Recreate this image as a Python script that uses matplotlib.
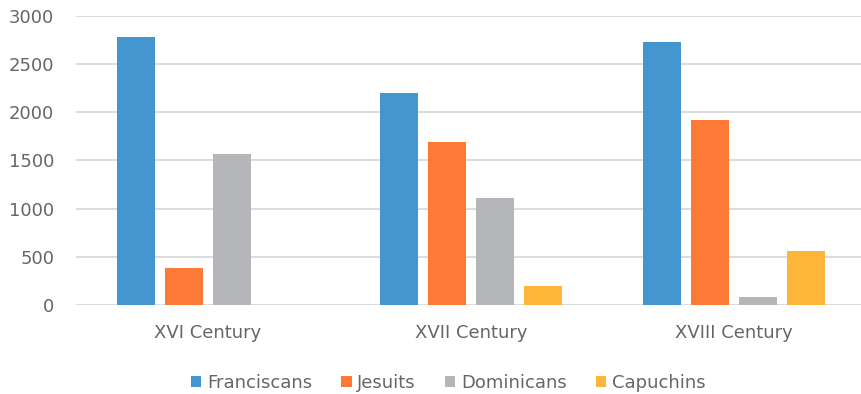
import matplotlib.pyplot as plt
import numpy as np

plt.rcParams['font.family'] = ['DejaVu Sans']

centuries = ["XVI Century", "XVII Century", "XVIII Century"]
orders = ["Franciscans", "Jesuits", "Dominicans", "Capuchins"]
franciscans = [2780, 2200, 2730]
jesuits = [380, 1690, 1920]
dominicans = [1570, 1110, 80]
capuchins = [0, 200, 560]
yticks = [0, 500, 1000, 1500, 2000, 2500, 3000]

series = [franciscans, jesuits, dominicans, capuchins]
colors = ["#4496D1", "#FC7A36", "#B5B6B9", "#FDB63A"]

fig = plt.figure(figsize=(8.62, 3.94), dpi=100)
ax = fig.add_axes([76.5 / 862, (394 - 305) / 394, (865.5 - 76.5) / 862, (305 - 15.7) / 394])

x = np.arange(len(centuries))
width = 0.141
pitch = 0.1825
offsets = (np.arange(len(orders)) - 1.5) * pitch
for vals, off, col, name in zip(series, offsets, colors, orders):
    ax.bar(x + off, vals, width=width, color=col, label=name, zorder=3)

ax.set_xlim(-0.5, 2.5)
ax.set_ylim(0, 3000)
ax.set_yticks(yticks)
ax.set_yticklabels([str(v) for v in yticks])
ax.set_xticks(x)
ax.set_xticklabels(centuries)
ax.yaxis.grid(True, color="#D9D9D9", linewidth=1.3, zorder=0)
ax.set_axisbelow(True)
for s in ax.spines.values():
    s.set_visible(False)
ax.tick_params(axis='both', length=0, labelsize=13, colors="#666666")
ax.tick_params(axis='y', pad=16)
ax.tick_params(axis='x', pad=14)

handles, labels = ax.get_legend_handles_labels()
fig.legend(handles, labels, loc='center', bbox_to_anchor=(448 / 862, 1 - 383 / 394),
           ncol=4, frameon=False, fontsize=13, labelcolor="#666666",
           handlelength=0.6, handleheight=0.6, handletextpad=0.3, columnspacing=1.6)

fig.savefig("out.png", dpi=100)
